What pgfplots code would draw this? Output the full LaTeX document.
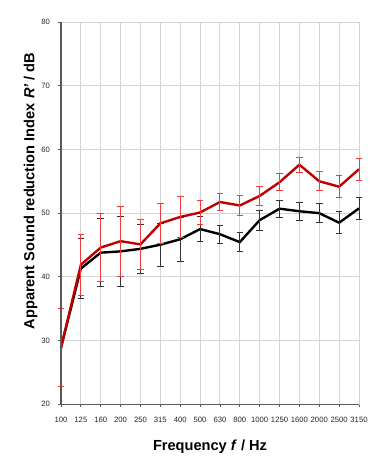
\documentclass[border=0pt]{standalone}
\usepackage{pgfplots}
\usepackage{pgfplotstable}
\pgfplotsset{compat=1.18}
\usepackage{fontspec}
\setmainfont{Liberation Sans}
\definecolor{redline}{HTML}{C00000}
\definecolor{rederr}{HTML}{F03C3C}
\definecolor{blkerr}{HTML}{333333}
\definecolor{gridgray}{HTML}{D4D4D4}
\definecolor{axisdark}{HTML}{5A5A5A}

\pgfplotstableread{
x y e
0 28.9 6.1
1 41.9 4.75
2 44.6 5.3
3 45.6 5.5
4 45.1 3.9
5 48.4 3.15
6 49.4 3.2
7 50.1 1.95
8 51.75 1.35
9 51.2 1.55
10 52.7 1.5
11 54.85 1.35
12 57.6 1.15
13 55.0 1.5
14 54.15 1.75
15 56.9 1.7
}\redtab

\pgfplotstableread{
x y e
0 28.9 6.1
1 41.3 4.7
2 43.8 5.3
3 44.0 5.45
4 44.4 3.9
5 45.05 3.35
6 45.9 3.5
7 47.5 2.0
8 46.7 1.4
9 45.45 1.5
10 48.9 1.6
11 50.7 1.35
12 50.3 1.4
13 50.0 1.5
14 48.5 1.75
15 50.75 1.7
}\blktab

\begin{document}
\begin{tikzpicture}
\useasboundingbox (-61pt,-55.7pt) rectangle (321pt,404.3pt);
\begin{axis}[
  at={(0,0)}, anchor=south west,
  scale only axis, width=298pt, height=382.3pt,
  xmin=0, xmax=15, ymin=20, ymax=80,
  xtick={0,...,15},
  xticklabels={100,125,160,200,250,315,400,500,630,800,1000,1250,1600,2000,2500,3150},
  ytick={20,30,...,80},
  grid=major,
  grid style={gridgray, line width=0.9pt},
  axis line style={gridgray, line width=0.9pt},
  tick pos=left, tick align=outside, major tick length=2.5pt,
  tick style={axisdark, line width=0.8pt},
  /pgf/number format/assume math mode=true,
  ticklabel style={font=\fontsize{7.7}{9}\selectfont, text=black!85},
  xticklabel style={yshift=-7pt},
  yticklabel style={xshift=-5pt},
  xlabel={\bfseries Frequency \textit{f} / Hz},
  xlabel style={font=\fontsize{14.6}{16}\selectfont, at={(axis description cs:0.5,0)}, anchor=base, yshift=-45.7pt},
  ylabel={\bfseries Apparent Sound reduction Index \textit{R'} / dB},
  ylabel style={font=\fontsize{14.6}{16}\selectfont, at={(axis description cs:0,0.558)}, anchor=base, yshift=26.7pt},
  clip=false,
]
\addplot[black, line width=2.4pt, no markers,
  error bars/.cd, y dir=both, y explicit,
  error bar style={blkerr, line width=0.9pt},
  error mark options={rotate=90, mark size=3.3pt, blkerr, line width=0.9pt}]
  table[x=x, y=y, y error=e] {\blktab};
\addplot[redline, line width=2.4pt, no markers,
  error bars/.cd, y dir=both, y explicit,
  error bar style={rederr, line width=0.9pt},
  error mark options={rotate=90, mark size=3.3pt, rederr, line width=0.9pt}]
  table[x=x, y=y, y error=e] {\redtab};
\draw[axisdark, line width=1.2pt] (rel axis cs:0,1) -- (rel axis cs:0,0) -- (rel axis cs:1,0);
\end{axis}
\end{tikzpicture}
\end{document}
